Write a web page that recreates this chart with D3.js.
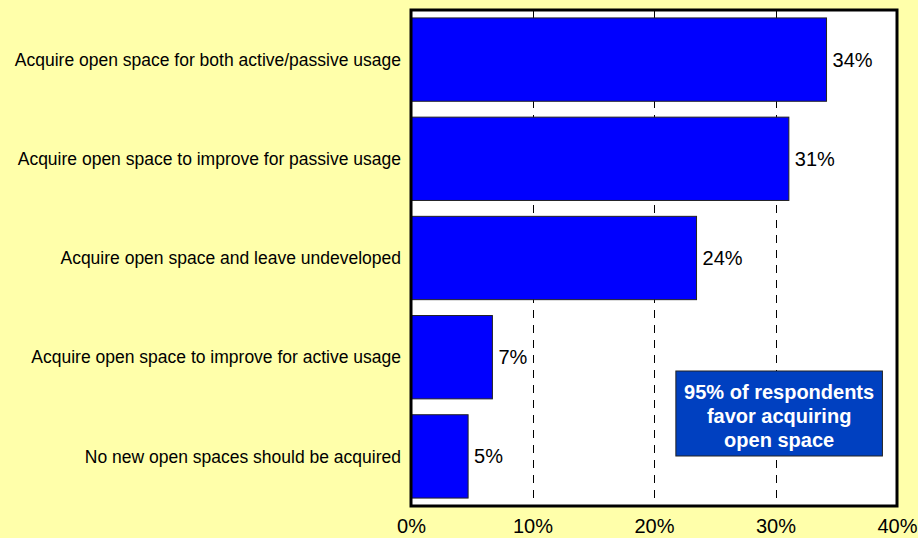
<!DOCTYPE html>
<html lang="en">
<head>
<meta charset="UTF-8">
<title>Open space preferences</title>
<script src="https://cdn.jsdelivr.net/npm/d3@7"></script>
<style>
    body { margin: 0; background: #ffffaa; }
    text { font-family: "Liberation Sans", Arial, sans-serif; fill: #000; }
    .cat { font-size: 17.5px; }
    .val { font-size: 20px; }
    .tick text { font-size: 20px; font-family: "Liberation Sans", Arial, sans-serif; }
    .note { font-size: 20px; font-weight: bold; fill: #fff; }
</style>
</head>
<body>
<div id="chart"></div>
<script>

    var categories = [
        "Acquire open space for both active/passive usage",
        "Acquire open space to improve for passive usage",
        "Acquire open space and leave undeveloped",
        "Acquire open space to improve for active usage",
        "No new open spaces should be acquired"
    ];
    var values = [34.2, 31.1, 23.5, 6.7, 4.7];
    var valueLabels = ["34%", "31%", "24%", "7%", "5%"];
    var ticks = [0, 10, 20, 30, 40];
    var noteLines = ["95% of respondents", "favor acquiring", "open space"];

    var width = 918, height = 538;
    var plot = {left: 411, right: 897, top: 10, bottom: 506};

    var svg = d3.select("#chart").append("svg")
        .attr("width", width)
        .attr("height", height);

    var x = d3.scaleLinear().domain([0, 40]).range([plot.left, plot.right]);
    var y = d3.scaleBand().domain(categories)
        .range([plot.top, plot.bottom])
        .paddingInner(0.16).paddingOuter(0.08);

    // plot background
    svg.append("rect")
        .attr("x", plot.left).attr("y", plot.top)
        .attr("width", plot.right - plot.left)
        .attr("height", plot.bottom - plot.top)
        .attr("fill", "#fff");

    // dashed gridlines
    svg.append("g")
        .selectAll("line")
        .data(ticks.slice(1, -1))
        .enter().append("line")
        .attr("x1", function(d) { return Math.round(x(d)) + 0.5; })
        .attr("x2", function(d) { return Math.round(x(d)) + 0.5; })
        .attr("y1", plot.top)
        .attr("y2", plot.bottom)
        .attr("stroke", "#000")
        .attr("stroke-dasharray", "8,7");

    // bars
    svg.append("g")
        .selectAll("rect")
        .data(values)
        .enter().append("rect")
        .attr("x", x(0))
        .attr("y", function(d, i) { return y(categories[i]); })
        .attr("width", function(d) { return x(d) - x(0); })
        .attr("height", y.bandwidth())
        .attr("fill", "#0000ff")
        .attr("stroke", "#222")
        .attr("stroke-width", 1);

    // value labels
    svg.append("g")
        .selectAll("text")
        .data(values)
        .enter().append("text")
        .attr("class", "val")
        .attr("x", function(d) { return x(d) + 6; })
        .attr("y", function(d, i) { return y(categories[i]) + y.bandwidth() / 2; })
        .attr("dy", "0.35em")
        .text(function(d, i) { return valueLabels[i]; });

    // category labels
    svg.append("g")
        .selectAll("text")
        .data(categories)
        .enter().append("text")
        .attr("class", "cat")
        .attr("x", plot.left - 10)
        .attr("y", function(d) { return y(d) + y.bandwidth() / 2; })
        .attr("dy", "0.35em")
        .attr("text-anchor", "end")
        .text(function(d) { return d; });

    // plot frame
    svg.append("rect")
        .attr("x", plot.left).attr("y", plot.top)
        .attr("width", plot.right - plot.left)
        .attr("height", plot.bottom - plot.top)
        .attr("fill", "none")
        .attr("stroke", "#000")
        .attr("stroke-width", 3);

    // x axis labels
    var xAxis = svg.append("g")
        .attr("transform", "translate(0," + plot.bottom + ")")
        .call(d3.axisBottom(x).tickValues(ticks)
            .tickFormat(function(d) { return d + "%"; })
            .tickSize(0).tickPadding(13));
    xAxis.select(".domain").remove();

    // callout box
    var note = svg.append("g");
    note.append("rect")
        .attr("x", x(21.8)).attr("y", 371)
        .attr("width", x(38.8) - x(21.8)).attr("height", 85)
        .attr("fill", "#0040c0")
        .attr("stroke", "#222");
    note.selectAll("text")
        .data(noteLines)
        .enter().append("text")
        .attr("class", "note")
        .attr("x", (x(21.8) + x(38.8)) / 2)
        .attr("y", function(d, i) { return 399 + i * 24; })
        .attr("text-anchor", "middle")
        .text(function(d) { return d; });

</script>
</body>
</html>
